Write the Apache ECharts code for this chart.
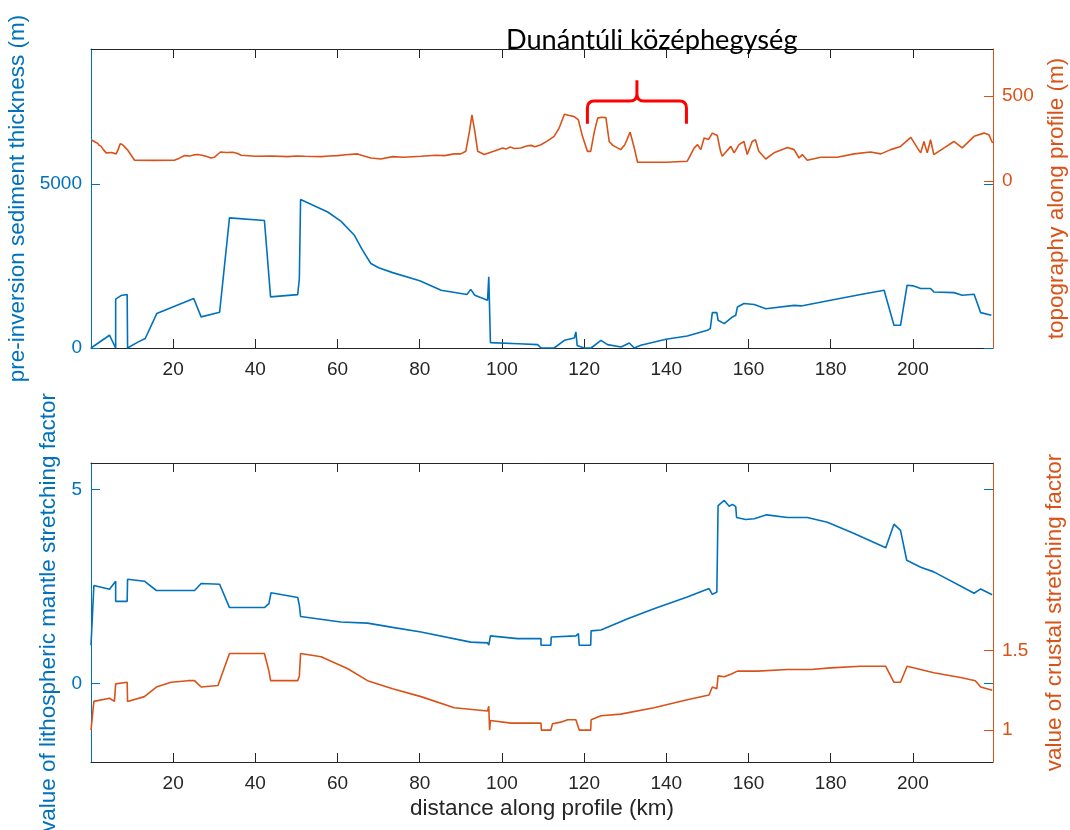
<!DOCTYPE html>
<html>
<head>
<meta charset="utf-8">
<script src="https://cdn.jsdelivr.net/npm/echarts@6/dist/echarts.min.js"></script>
<style>html,body{margin:0;padding:0;background:#fff;}#chart{width:1070px;height:830px;}</style>
</head>
<body>
<div id="chart"></div>
<script>
// ---- data (distance km, value) ----
const xTicks = [20, 40, 60, 80, 100, 120, 140, 160, 180, 200];
const sedimentTicks = [0, 5000];
const topoTicks = [0, 500];
const mantleTicks = [0, 5];
const crustTicks = [1, 1.5];

const sediment = [[0,0],[4.5,390],[6.0,0],[6.0,1490],[7.3,1600],[8.8,1630],[8.9,0],[11.4,180],[13.2,290],[16.0,1050],[25.0,1510],[26.8,950],[31.3,1090],[33.7,3970],[42.2,3890],[43.7,1560],[50.3,1630],[50.7,2120],[51.0,4530],[57.6,4150],[60.8,3870],[64.1,3440],[66,3000],[68.1,2580],[70,2450],[73.4,2300],[80,2050],[85.2,1760],[91.5,1630],[92.4,1790],[93.4,1610],[96.5,1460],[96.8,2170],[97.2,2170],[97.2,165],[104,130],[108.7,104],[109.5,0],[112.7,0],[115.2,235],[117.6,305],[118.0,490],[118.3,80],[120,0],[121.7,0],[124.1,235],[125.7,104],[129,30],[131,154],[132.2,0],[133.8,82],[139.9,265],[145.1,367],[150,540],[150.7,590],[151.2,1080],[152.3,1080],[152.6,846],[154.1,745],[156.1,947],[156.9,1000],[157.3,1250],[158.9,1356],[161.4,1325],[164.2,1200],[171.1,1300],[172.8,1284],[180,1457],[187.3,1630],[193,1760],[193.4,1770],[195.4,693],[197,693],[198.6,1915],[200.2,1895],[201.9,1814],[204.3,1814],[205.1,1711],[210,1690],[212,1609],[214.9,1640],[216.5,1080],[219.1,1000]];

const topography = [[0,243],[1,230],[1.6,222],[2,210],[2.5,204],[3,185],[3.7,166],[5,168],[6.1,160],[6.6,185],[7.1,220],[7.4,210],[7.6,215],[8.1,204],[9,180],[10.6,123],[15,122],[20.3,123],[21.5,135],[22.8,150],[24,148],[25,154],[26,156],[27,152],[28,146],[29.2,136],[30,140],[31.5,171],[33,168],[34.5,170],[35.7,162],[36.5,152],[40,146],[44,148],[47.9,144],[50,148],[52,146],[56,144],[58,148],[60,150],[62,155],[64.9,160],[66,150],[68.1,136],[70.5,130],[73.4,144],[76,140],[80.3,146],[84,152],[86,150],[88.4,160],[90,160],[91.2,175],[92.1,292],[92.7,389],[93.4,292],[94.1,175],[95.7,156],[98,175],[100.2,195],[101,188],[102,200],[103,192],[104.6,195],[106,206],[107.1,210],[108,202],[109.5,214],[111,235],[112.7,263],[113.9,311],[115.2,393],[116.4,385],[117.6,379],[118.6,360],[119.6,263],[120.8,175],[121.6,175],[122.5,292],[123.3,370],[124.2,375],[125.3,373],[126.1,233],[127,210],[128.9,185],[129.9,214],[131.2,288],[132.2,195],[133,111],[140,111],[145.1,117],[146.8,195],[147.6,214],[148.4,185],[149.2,253],[150.3,245],[151.2,282],[152.4,268],[153.2,175],[153.6,146],[155.7,204],[156.5,166],[157.7,214],[158.9,233],[159.7,156],[160.9,233],[161.7,243],[162.5,175],[164.2,130],[166.2,166],[169.5,198],[171.1,185],[172.3,136],[173.1,156],[174.3,123],[177.6,140],[181.6,140],[185.7,160],[189.7,171],[192.2,160],[194.6,185],[197,204],[199.5,257],[201.1,195],[201.9,166],[202.7,233],[203.5,166],[204.3,243],[205.1,156],[207.6,195],[210,233],[212,195],[214.9,263],[217.3,282],[218.5,272],[219.4,224]];

const mantle = [[0,0.99],[0.2,0.99],[0.7,2.53],[4.5,2.43],[6.0,2.64],[6.0,2.12],[8.8,2.12],[8.9,2.69],[13.0,2.64],[15.9,2.40],[25.2,2.40],[26.8,2.58],[31.3,2.56],[33.7,1.96],[42.2,1.96],[43.3,2.06],[43.8,2.34],[50.3,2.22],[50.7,2.02],[51.0,1.73],[60.8,1.59],[67.3,1.56],[73.4,1.45],[80.3,1.33],[92.4,1.07],[96.5,1.05],[96.8,0.99],[97.2,1.23],[103.8,1.16],[109.5,1.16],[109.5,0.99],[111.9,0.99],[112.0,1.20],[118.0,1.23],[118.6,1.29],[118.8,0.99],[121.6,0.99],[121.7,1.36],[124.1,1.38],[130.6,1.67],[137.0,1.93],[145.1,2.23],[150.4,2.45],[151.2,2.30],[152.3,2.36],[152.6,4.59],[154.1,4.72],[155.3,4.57],[156.1,4.62],[156.9,4.56],[157.1,4.28],[159.3,4.23],[161.4,4.25],[164.4,4.35],[169.5,4.28],[174.3,4.28],[179.2,4.16],[185.7,3.87],[193.4,3.50],[195.4,4.11],[197.0,3.95],[198.5,3.18],[201.9,3.00],[205.1,2.88],[214.9,2.33],[216.5,2.44],[219.3,2.29]];

const crust = [[0,1.0],[0.2,1.0],[0.7,1.18],[4.5,1.20],[5.7,1.18],[6.0,1.29],[8.8,1.30],[8.9,1.18],[13.0,1.21],[15.9,1.27],[19.5,1.30],[23.6,1.31],[25.2,1.31],[26.8,1.27],[30.9,1.28],[33.7,1.48],[42.2,1.48],[43.3,1.37],[43.7,1.31],[50.3,1.31],[50.7,1.34],[51.0,1.48],[56.0,1.46],[62.5,1.385],[67.3,1.31],[73.4,1.26],[80.3,1.21],[88.4,1.14],[96.5,1.12],[96.8,1.15],[97.0,1.00],[97.2,1.06],[102.2,1.044],[109.5,1.044],[109.6,1.0],[111.9,1.0],[112.3,1.04],[114.3,1.05],[116.0,1.065],[118.0,1.065],[118.8,1.0],[121.6,1.0],[121.7,1.065],[124.1,1.09],[128.9,1.10],[137.0,1.14],[145.1,1.19],[150.4,1.22],[151.2,1.27],[152.3,1.26],[152.6,1.34],[154.1,1.335],[155.7,1.35],[157.3,1.37],[162.2,1.37],[169.5,1.38],[175.2,1.38],[180.0,1.39],[187.3,1.40],[193.4,1.40],[195.4,1.30],[197.0,1.30],[198.6,1.40],[205.1,1.36],[211.6,1.33],[215.2,1.31],[216.5,1.27],[219.3,1.25]];

// annotation brace over "Dunántúli középhegység" (km span, topography levels m)
const braceSpan = [120.8, 144.9];
const braceLevels = [337, 471, 593];
const titleText = 'Dunántúli középhegység';

// ---- styling ----
const BLUE = '#0072BD', ORANGE = '#D95319', DARK = '#262626';
const FONT = 'Liberation Sans, Arial, sans-serif';
const X_MAX = 219.5;
const plain = function (v) { return String(v); };

function xAx(grid, pos, withLabels, name) {
  return {
    type: 'value', gridIndex: grid, position: pos, min: 0, max: X_MAX,
    name: name || '', nameLocation: 'middle', nameGap: 35,
    nameTextStyle: { fontFamily: FONT, fontSize: 22.5, color: DARK },
    axisLine: { onZero: false, lineStyle: { color: DARK, width: 1 } },
    axisTick: { show: true, inside: true, length: 9, customValues: xTicks, lineStyle: { color: DARK } },
    axisLabel: { show: withLabels, customValues: xTicks, formatter: plain, margin: 12, fontFamily: FONT, fontSize: 19, color: DARK },
    splitLine: { show: false }
  };
}
function yAx(grid, pos, min, max, ticks, color, name, nameGap, showLine, showLabel) {
  return {
    type: 'value', gridIndex: grid, position: pos, min: min, max: max,
    name: name || '', nameLocation: 'middle', nameRotate: 90, nameGap: nameGap || 0,
    nameTextStyle: { fontFamily: FONT, fontSize: 22.5, color: color },
    axisLine: { show: showLine, onZero: false, lineStyle: { color: color, width: 1 } },
    axisTick: { show: true, inside: true, length: 9, customValues: ticks, lineStyle: { color: color } },
    axisLabel: { show: showLabel, customValues: ticks, formatter: plain, margin: 9, fontFamily: FONT, fontSize: 19, color: color },
    splitLine: { show: false }
  };
}

const chart = echarts.init(document.getElementById('chart'), null, { renderer: 'canvas' });
chart.setOption({
  animation: false,
  backgroundColor: '#fff',
  title: {
    text: titleText, left: 501, top: 22,
    textStyle: { fontFamily: 'Lato, Open Sans, sans-serif', fontSize: 27.2, fontWeight: 'normal', color: '#000' }
  },
  grid: [
    { left: 91, top: 49, width: 902, height: 299, containLabel: false, outerBoundsMode: 'none' },
    { left: 91, top: 463, width: 902, height: 299, containLabel: false, outerBoundsMode: 'none' }
  ],
  xAxis: [
    xAx(0, 'bottom', true),
    xAx(0, 'top', false),
    xAx(1, 'bottom', true, 'distance along profile (km)'),
    xAx(1, 'top', false)
  ],
  yAxis: [
    yAx(0, 'left', 0, 9124, sedimentTicks, BLUE, 'pre-inversion sediment thickness (m)', 52, true, true),
    yAx(0, 'right', -980, 776, topoTicks, ORANGE, 'topography along profile (m)', 52, true, true),
    yAx(0, 'right', 0, 9124, sedimentTicks, BLUE, '', 0, false, false),
    yAx(1, 'left', -2.02, 5.686, mantleTicks, BLUE, 'value of lithospheric mantle stretching factor', 22, true, true),
    yAx(1, 'right', 0.8, 2.675, crustTicks, ORANGE, 'value of crustal stretching factor', 50, true, true),
    yAx(1, 'right', -2.02, 5.686, mantleTicks, BLUE, '', 0, false, false)
  ],
  series: [
    { type: 'line', xAxisIndex: 0, yAxisIndex: 0, data: sediment, showSymbol: false, lineStyle: { color: BLUE, width: 1.6 }, itemStyle: { color: BLUE } },
    { type: 'line', xAxisIndex: 0, yAxisIndex: 1, data: topography, showSymbol: false, lineStyle: { color: ORANGE, width: 1.6 }, itemStyle: { color: ORANGE } },
    { type: 'line', xAxisIndex: 2, yAxisIndex: 3, data: mantle, showSymbol: false, lineStyle: { color: BLUE, width: 1.6 }, itemStyle: { color: BLUE } },
    { type: 'line', xAxisIndex: 2, yAxisIndex: 4, data: crust, showSymbol: false, lineStyle: { color: ORANGE, width: 1.6 }, itemStyle: { color: ORANGE } },
    {
      type: 'custom', xAxisIndex: 0, yAxisIndex: 1, z: 10, silent: true,
      data: [[braceSpan[0], braceSpan[1], braceLevels[0], braceLevels[1], braceLevels[2]]],
      renderItem: function (params, api) {
        const xl = api.coord([api.value(0), api.value(3)]);
        const xr = api.coord([api.value(1), api.value(3)]);
        const yEnd = api.coord([api.value(0), api.value(2)])[1];
        const yTip = api.coord([api.value(0), api.value(4)])[1];
        const yH = xl[1];
        const x0 = xl[0], x1 = xr[0], xc = (x0 + x1) / 2, r = 7;
        const d = 'M' + x0 + ' ' + yEnd + ' L' + x0 + ' ' + (yH + r) +
          ' Q' + x0 + ' ' + yH + ' ' + (x0 + r) + ' ' + yH +
          ' L' + (xc - r) + ' ' + yH +
          ' Q' + xc + ' ' + yH + ' ' + xc + ' ' + (yH - r) +
          ' L' + xc + ' ' + yTip +
          ' M' + xc + ' ' + (yH - r) +
          ' Q' + xc + ' ' + yH + ' ' + (xc + r) + ' ' + yH +
          ' L' + (x1 - r) + ' ' + yH +
          ' Q' + x1 + ' ' + yH + ' ' + x1 + ' ' + (yH + r) +
          ' L' + x1 + ' ' + yEnd;
        return { type: 'path', shape: { pathData: d }, style: { stroke: '#FF0000', fill: null, lineWidth: 3 } };
      }
    }
  ]
});
</script>
</body>
</html>
